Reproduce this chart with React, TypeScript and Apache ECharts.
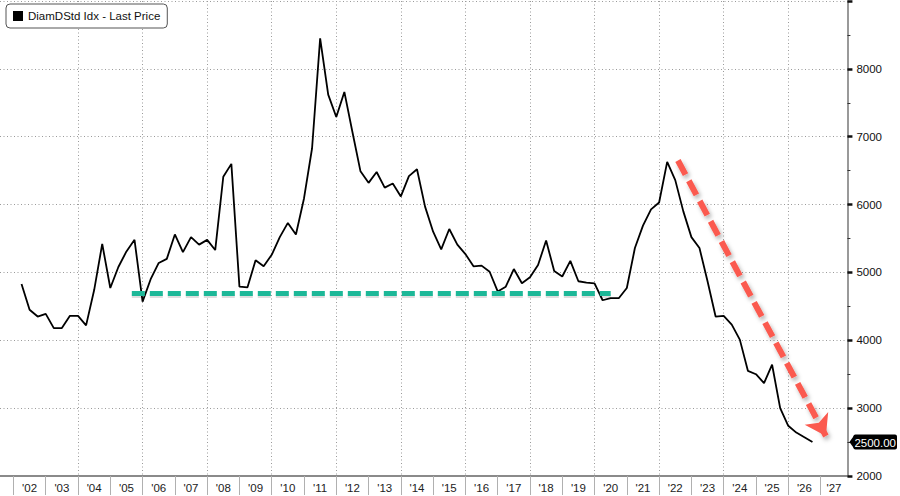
import React, { useEffect, useRef } from "react";
import * as echarts from "echarts";

// ---------- data ----------
const seriesName = "DiamDStd Idx - Last Price";
const years = [
  2002, 2003, 2004, 2005, 2006, 2007, 2008, 2009, 2010, 2011, 2012, 2013, 2014,
  2015, 2016, 2017, 2018, 2019, 2020, 2021, 2022, 2023, 2024, 2025, 2026,
];
// quarterly observations (Jan / Apr / Jul / Oct)
const janValues = [
  null, 4390, 4360, 4770, 4570, 5560, 5480, 4790, 5260, 6090, 7290, 6320, 6120,
  5600, 5270, 4720, 4930, 4940, 4840, 4770, 6030, 5520, 4360, 3500, 2740,
];
const aprValues = [
  4830, 4180, 4220, 5080, 4900, 5300, 5330, 4780, 5520, 6830, 7660, 6480, 6420,
  5340, 5090, 4790, 5110, 5170, 4590, 5360, 6630, 5360, 4230, 3370, 2640,
];
const julValues = [
  4450, 4180, 4740, 5310, 5140, 5520, 6410, 5180, 5730, 8450, 7070, 6250, 6520,
  5640, 5100, 5050, 5470, 4870, 4620, 5690, 6360, 4870, 4010, 3640, 2570,
];
const octValues = [
  4350, 4360, 5420, 5480, 5200, 5410, 6600, 5090, 5560, 7620, 6490, 6310, 5970,
  5410, 5010, 4840, 5020, 4850, 4620, 5930, 5900, 4350, 3550, 3000, 2500,
];
const lastPrice = 2500;

// annotations
const supportLevel = 4700;
const supportShadowLevel = 4655;
const supportRange = ["2005-09", "2020-07"];
const trendStart = ["2022-08", 6650];
const trendEnd = ["2027-03", 2590];

// axes
const axisStartYear = 2001;
const axisStartMonth = 8;
const axisEndYear = 2027;
const axisEndMonth = 11;
const labelYears = [
  2002, 2003, 2004, 2005, 2006, 2007, 2008, 2009, 2010, 2011, 2012, 2013, 2014,
  2015, 2016, 2017, 2018, 2019, 2020, 2021, 2022, 2023, 2024, 2025, 2026, 2027,
];
const gridYears = [2004, 2006, 2008, 2010, 2012, 2014, 2016, 2018, 2020, 2022, 2024, 2026];
const yMin = 2000;
const yMax = 9000;
const yStep = 1000;

// ---------- derived ----------
const monthKey = (y: number, m: number) => `${y}-${String(m).padStart(2, "0")}`;
const months: string[] = [];
for (let y = axisStartYear; y <= axisEndYear; y++) {
  for (let m = 1; m <= 12; m++) {
    if (y === axisStartYear && m < axisStartMonth) continue;
    if (y === axisEndYear && m > axisEndMonth) continue;
    months.push(monthKey(y, m));
  }
}
const labelMap: Record<string, string> = {};
labelYears.forEach((y) => {
  const endM = y === axisEndYear ? axisEndMonth : 13;
  const mid = Math.round((1 + endM) / 2);
  labelMap[monthKey(y, mid)] = "'" + String(y).slice(2);
});
const gridKeys = new Set(gridYears.map((y) => monthKey(y, 1)));

const priceData: [string, number][] = [];
years.forEach((y, i) => {
  const qs = [janValues[i], aprValues[i], julValues[i], octValues[i]];
  const ms = [1, 4, 7, 10];
  qs.forEach((v, k) => {
    if (v !== null && v !== undefined) priceData.push([monthKey(y, ms[k]), v as number]);
  });
});

const FONT = "'Liberation Sans', Arial, sans-serif";

export default function App() {
  const ref = useRef<HTMLDivElement>(null);
  useEffect(() => {
    document.body.style.margin = "0";
    if (!ref.current) return;
    const chart = echarts.init(ref.current, undefined, { renderer: "svg" });
    const dotted = { type: [1, 2.5], color: "#9a9a9a", width: 1 };
    chart.setOption({
      animation: false,
      backgroundColor: "#ffffff",
      textStyle: { fontFamily: FONT },
      legend: {
        data: [seriesName],
        left: 6,
        top: 4,
        icon: "rect",
        itemWidth: 10,
        itemHeight: 10,
        selectedMode: false,
        backgroundColor: "#ffffff",
        borderColor: "#555",
        borderWidth: 1,
        borderRadius: 4,
        padding: [6, 7, 6, 7],
        textStyle: { fontSize: 11.5, color: "#111", fontFamily: FONT },
      },
      grid: { left: 0, right: 49, top: 1, bottom: 20, containLabel: false },
      xAxis: {
        type: "category",
        data: months,
        boundaryGap: false,
        axisLine: { show: true, lineStyle: { color: "#8a8a8a", width: 2 } },
        axisTick: {
          show: true,
          interval: (_i: number, v: string) => v.endsWith("-01"),
          length: 19,
          lineStyle: { color: "#b0b0b0", width: 1 },
        },
        axisLabel: {
          interval: (_i: number, v: string) => labelMap[v] !== undefined,
          formatter: (v: string) => labelMap[v] || "",
          fontSize: 11.5,
          color: "#222",
          margin: 6,
          fontFamily: FONT,
        },
        splitLine: {
          show: true,
          interval: (_i: number, v: string) => gridKeys.has(v),
          lineStyle: dotted,
        },
      },
      yAxis: [
        {
          type: "value",
          position: "right",
          min: yMin,
          max: yMax,
          interval: yStep,
          axisLine: { show: true, lineStyle: { color: "#777", width: 1.5 } },
          axisTick: { show: true, length: 5, lineStyle: { color: "#111", width: 2.5 } },
          minorTick: { show: true, splitNumber: 2, length: 3, lineStyle: { color: "#333", width: 1 } },
          axisLabel: {
            formatter: (v: number) => (v === yMax ? "" : String(v)),
            color: "#111",
            fontSize: 11.5,
            margin: 9,
            fontFamily: FONT,
          },
          splitLine: { show: true, lineStyle: dotted },
        },
        {
          type: "value",
          position: "right",
          min: yMin,
          max: yMax,
          interval: yStep / 2,
          axisLine: { show: false },
          axisTick: { show: false },
          splitLine: { show: false },
          axisLabel: {
            margin: 6,
            formatter: (v: number) =>
              v === lastPrice ? "{tag|" + lastPrice.toFixed(2) + "}" : "",
            rich: {
              tag: {
                color: "#fff",
                backgroundColor: "#000",
                fontSize: 11.5,
                fontFamily: FONT,
                padding: [2, 1, 1, 1],
                borderRadius: 2,
              },
            },
          },
        },
      ],
      series: [
        {
          name: seriesName,
          type: "line",
          data: priceData,
          symbol: "none",
          yAxisIndex: 0,
          lineStyle: { color: "#000", width: 1.8 },
          itemStyle: { color: "#000" },
          z: 3,
          markLine: {
            silent: true,
            animation: false,
            symbol: "none",
            label: { show: false },
            emphasis: { disabled: true },
            data: [
              [
                {
                  coord: [supportRange[0], supportShadowLevel],
                  lineStyle: { color: "rgba(0,0,0,0.13)", width: 4, type: [13, 5] },
                },
                { coord: [supportRange[1], supportShadowLevel] },
              ],
              [
                {
                  coord: [supportRange[0], supportLevel],
                  lineStyle: { color: "#1db898", width: 5, type: [13, 5] },
                },
                { coord: [supportRange[1], supportLevel] },
              ],
              [
                {
                  coord: trendStart,
                  lineStyle: {
                    color: "#fb5a4f",
                    width: 6,
                    type: [16, 7],
                    shadowBlur: 4,
                    shadowColor: "rgba(0,0,0,0.3)",
                    shadowOffsetX: 2,
                    shadowOffsetY: 3,
                  },
                },
                {
                  coord: trendEnd,
                  symbol: "arrow",
                  symbolSize: [20, 20],
                  itemStyle: { color: "#fb5a4f" },
                },
              ],
            ],
          },
        },
      ],
    });
    // pointer of the last-price tag, placed through the axis scales
    const axisRight = chart.convertToPixel({ xAxisIndex: 0 }, months[months.length - 1]) as number;
    const tagY = chart.convertToPixel({ yAxisIndex: 0 }, lastPrice) as number;
    chart.setOption({
      graphic: [
        {
          type: "polygon",
          silent: true,
          z: 100,
          shape: {
            points: [
              [axisRight + 2, tagY],
              [axisRight + 7, tagY - 7],
              [axisRight + 7, tagY + 7],
            ],
          },
          style: { fill: "#000" },
        },
      ],
    });
    return () => chart.dispose();
  }, []);
  return (
    <div
      ref={ref}
      style={{ position: "fixed", left: 0, top: 0, width: 900, height: 496, background: "#fff" }}
    />
  );
}
